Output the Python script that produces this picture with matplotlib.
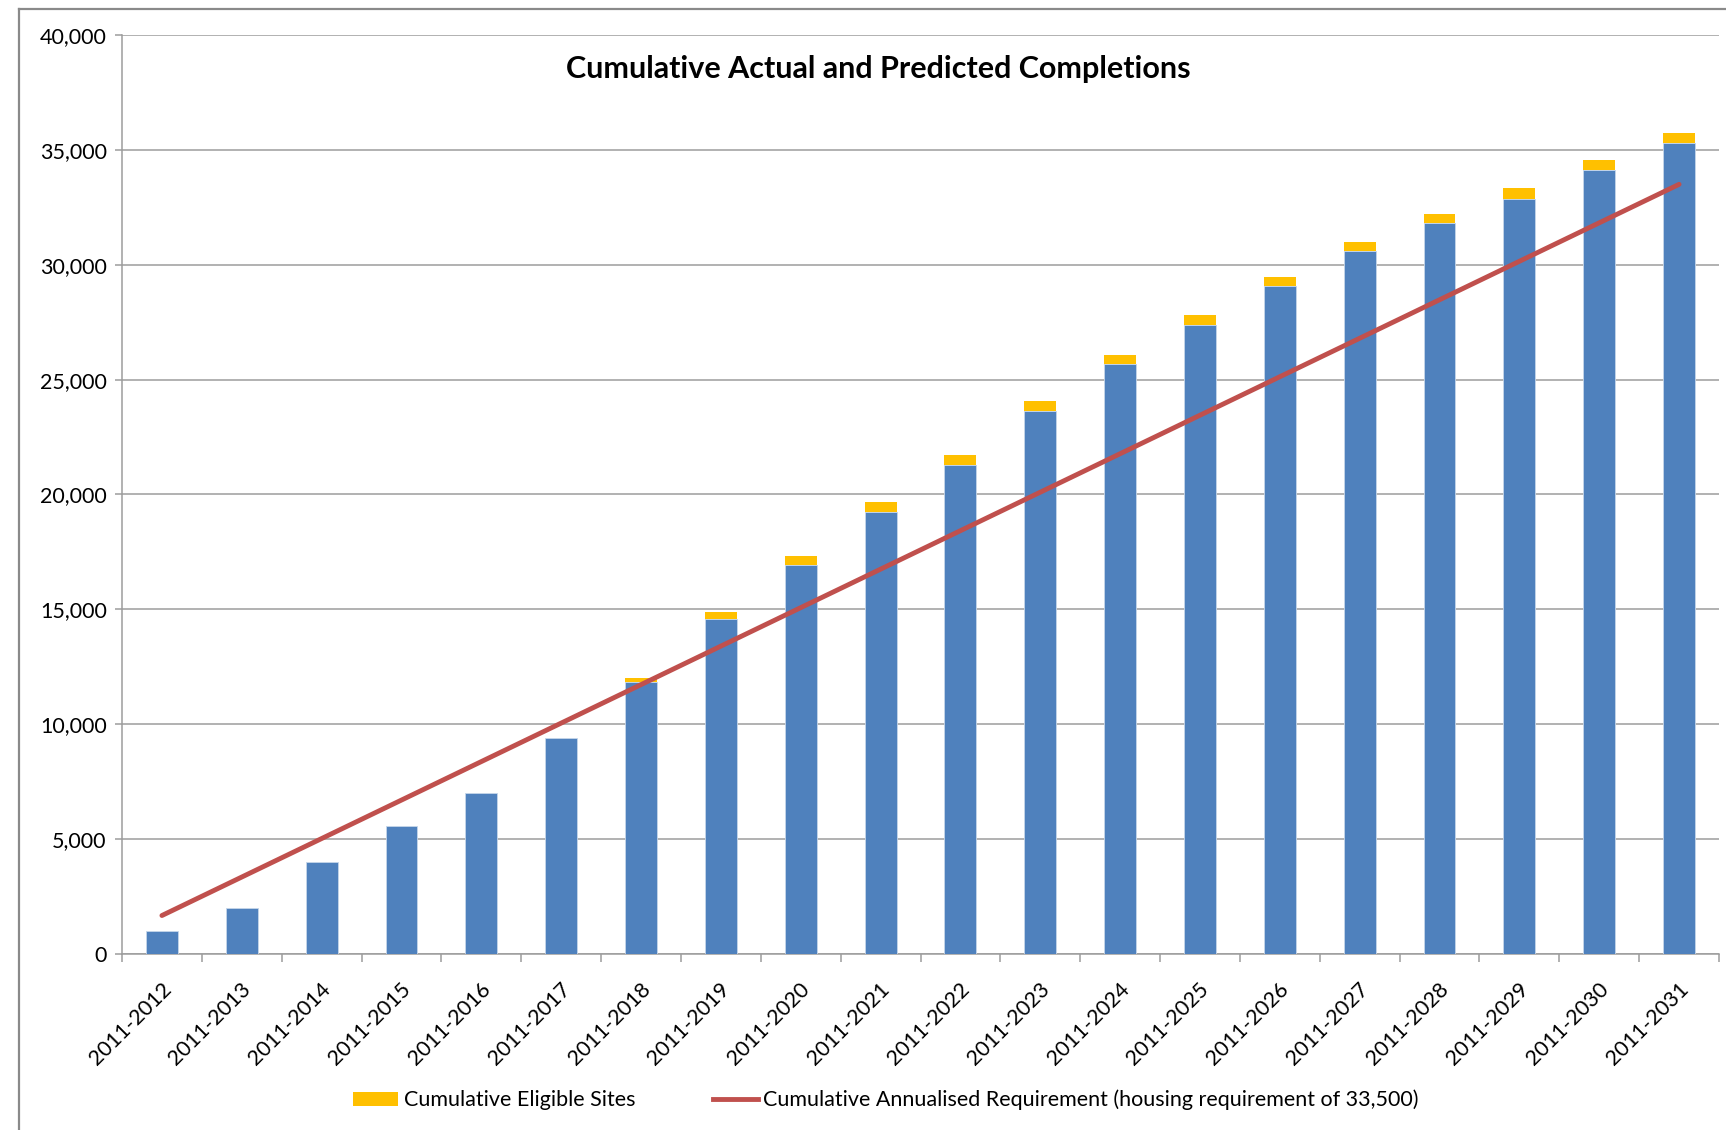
import matplotlib
matplotlib.use('Agg')
import matplotlib.pyplot as plt
import matplotlib.transforms as mtransforms
from matplotlib.lines import Line2D
from matplotlib.patches import Patch

plt.rcParams['font.family'] = ['Lato', 'DejaVu Sans']

# Data
periods = ['2011-2012', '2011-2013', '2011-2014', '2011-2015', '2011-2016',
           '2011-2017', '2011-2018', '2011-2019', '2011-2020', '2011-2021',
           '2011-2022', '2011-2023', '2011-2024', '2011-2025', '2011-2026',
           '2011-2027', '2011-2028', '2011-2029', '2011-2030', '2011-2031']
actual_predicted = [1000, 2020, 4000, 5580, 7000, 9380, 11850, 14560, 16950, 19250,
                    21300, 23650, 25660, 27380, 29080, 30610, 31800, 32880, 34110, 35300]
eligible_sites = [0, 0, 0, 0, 0, 0, 180, 330, 390, 420,
                  420, 420, 420, 420, 390, 390, 400, 440, 450, 450]
requirement = [1675, 3350, 5025, 6700, 8375, 10050, 11725, 13400, 15075, 16750,
               18425, 20100, 21775, 23450, 25125, 26800, 28475, 30150, 31825, 33500]

blue = '#4F81BD'
yellow = '#FFC000'
red = '#C0504D'
grid_grey = '#9c9c9c'
fs = 15.5

fig = plt.figure(figsize=(17.26, 11.3), dpi=100)
ax = fig.add_axes([122 / 1726, 1 - 954 / 1130, (1719 - 122) / 1726, (954 - 35) / 1130])

x = list(range(len(periods)))
ax.bar(x, actual_predicted, width=0.4, color=blue, edgecolor='#c6d6ea', linewidth=0.6, zorder=3)
ax.bar(x, eligible_sites, width=0.4, bottom=actual_predicted, color=yellow,
       linewidth=0, zorder=3)
ax.plot(x, requirement, color=red, linewidth=3.5, solid_capstyle='round', zorder=4)

ax.set_xlim(-0.5, len(periods) - 0.5)
ax.set_ylim(0, 40000)
ax.set_yticks(range(0, 40001, 5000))
ax.set_yticklabels([f'{v:,}' for v in range(0, 40001, 5000)])
ax.yaxis.grid(True, color=grid_grey, linewidth=1.1, zorder=0)
ax.set_axisbelow(True)

# category boundary ticks (no labels) and centred labels
ax.set_xticks([i - 0.5 for i in range(len(periods) + 1)])
ax.set_xticklabels([])
ax.set_xticks(x, minor=True)
ax.set_xticklabels(periods, minor=True, rotation=45, ha='right', va='center',
                   rotation_mode='anchor', fontsize=fs)
ax.tick_params(axis='x', which='major', length=6, width=1.1, color=grid_grey)
ax.tick_params(axis='x', which='minor', length=0, pad=23)
ax.tick_params(axis='y', length=5, width=1.1, color=grid_grey, pad=6, labelsize=fs)
offset = mtransforms.ScaledTranslation(6 / 100, 0, fig.dpi_scale_trans)
for lab in ax.xaxis.get_minorticklabels():
    lab.set_transform(lab.get_transform() + offset)

for side in ['top', 'right']:
    ax.spines[side].set_visible(False)
for side in ['left', 'bottom']:
    ax.spines[side].set_color(grid_grey)
    ax.spines[side].set_linewidth(1.1)

fig.text(878 / 1726, 1 - 69 / 1130, 'Cumulative Actual and Predicted Completions',
         ha='center', va='center', fontsize=22, fontweight='bold')

handles = [Patch(facecolor=yellow, edgecolor='none'),
           Line2D([0], [0], color=red, linewidth=3.5)]
labels = ['Cumulative Eligible Sites',
          'Cumulative Annualised Requirement (housing requirement of 33,500)']
fig.legend(handles, labels, loc='center', bbox_to_anchor=(886 / 1726, 1 - 1100 / 1130),
           ncol=2, frameon=False, fontsize=fs, handlelength=2.1, handleheight=0.6,
           handletextpad=0.25, columnspacing=3.6)

# outer chart-area border (only left and top visible in the crop)
fig.add_artist(Line2D([19 / 1726, 19 / 1726], [0, 1 - 9 / 1130], color='#8a8a8a',
                      linewidth=1.6, transform=fig.transFigure))
fig.add_artist(Line2D([19 / 1726, 1], [1 - 9 / 1130, 1 - 9 / 1130], color='#8a8a8a',
                      linewidth=1.6, transform=fig.transFigure))

fig.savefig('out.png', dpi=100)
